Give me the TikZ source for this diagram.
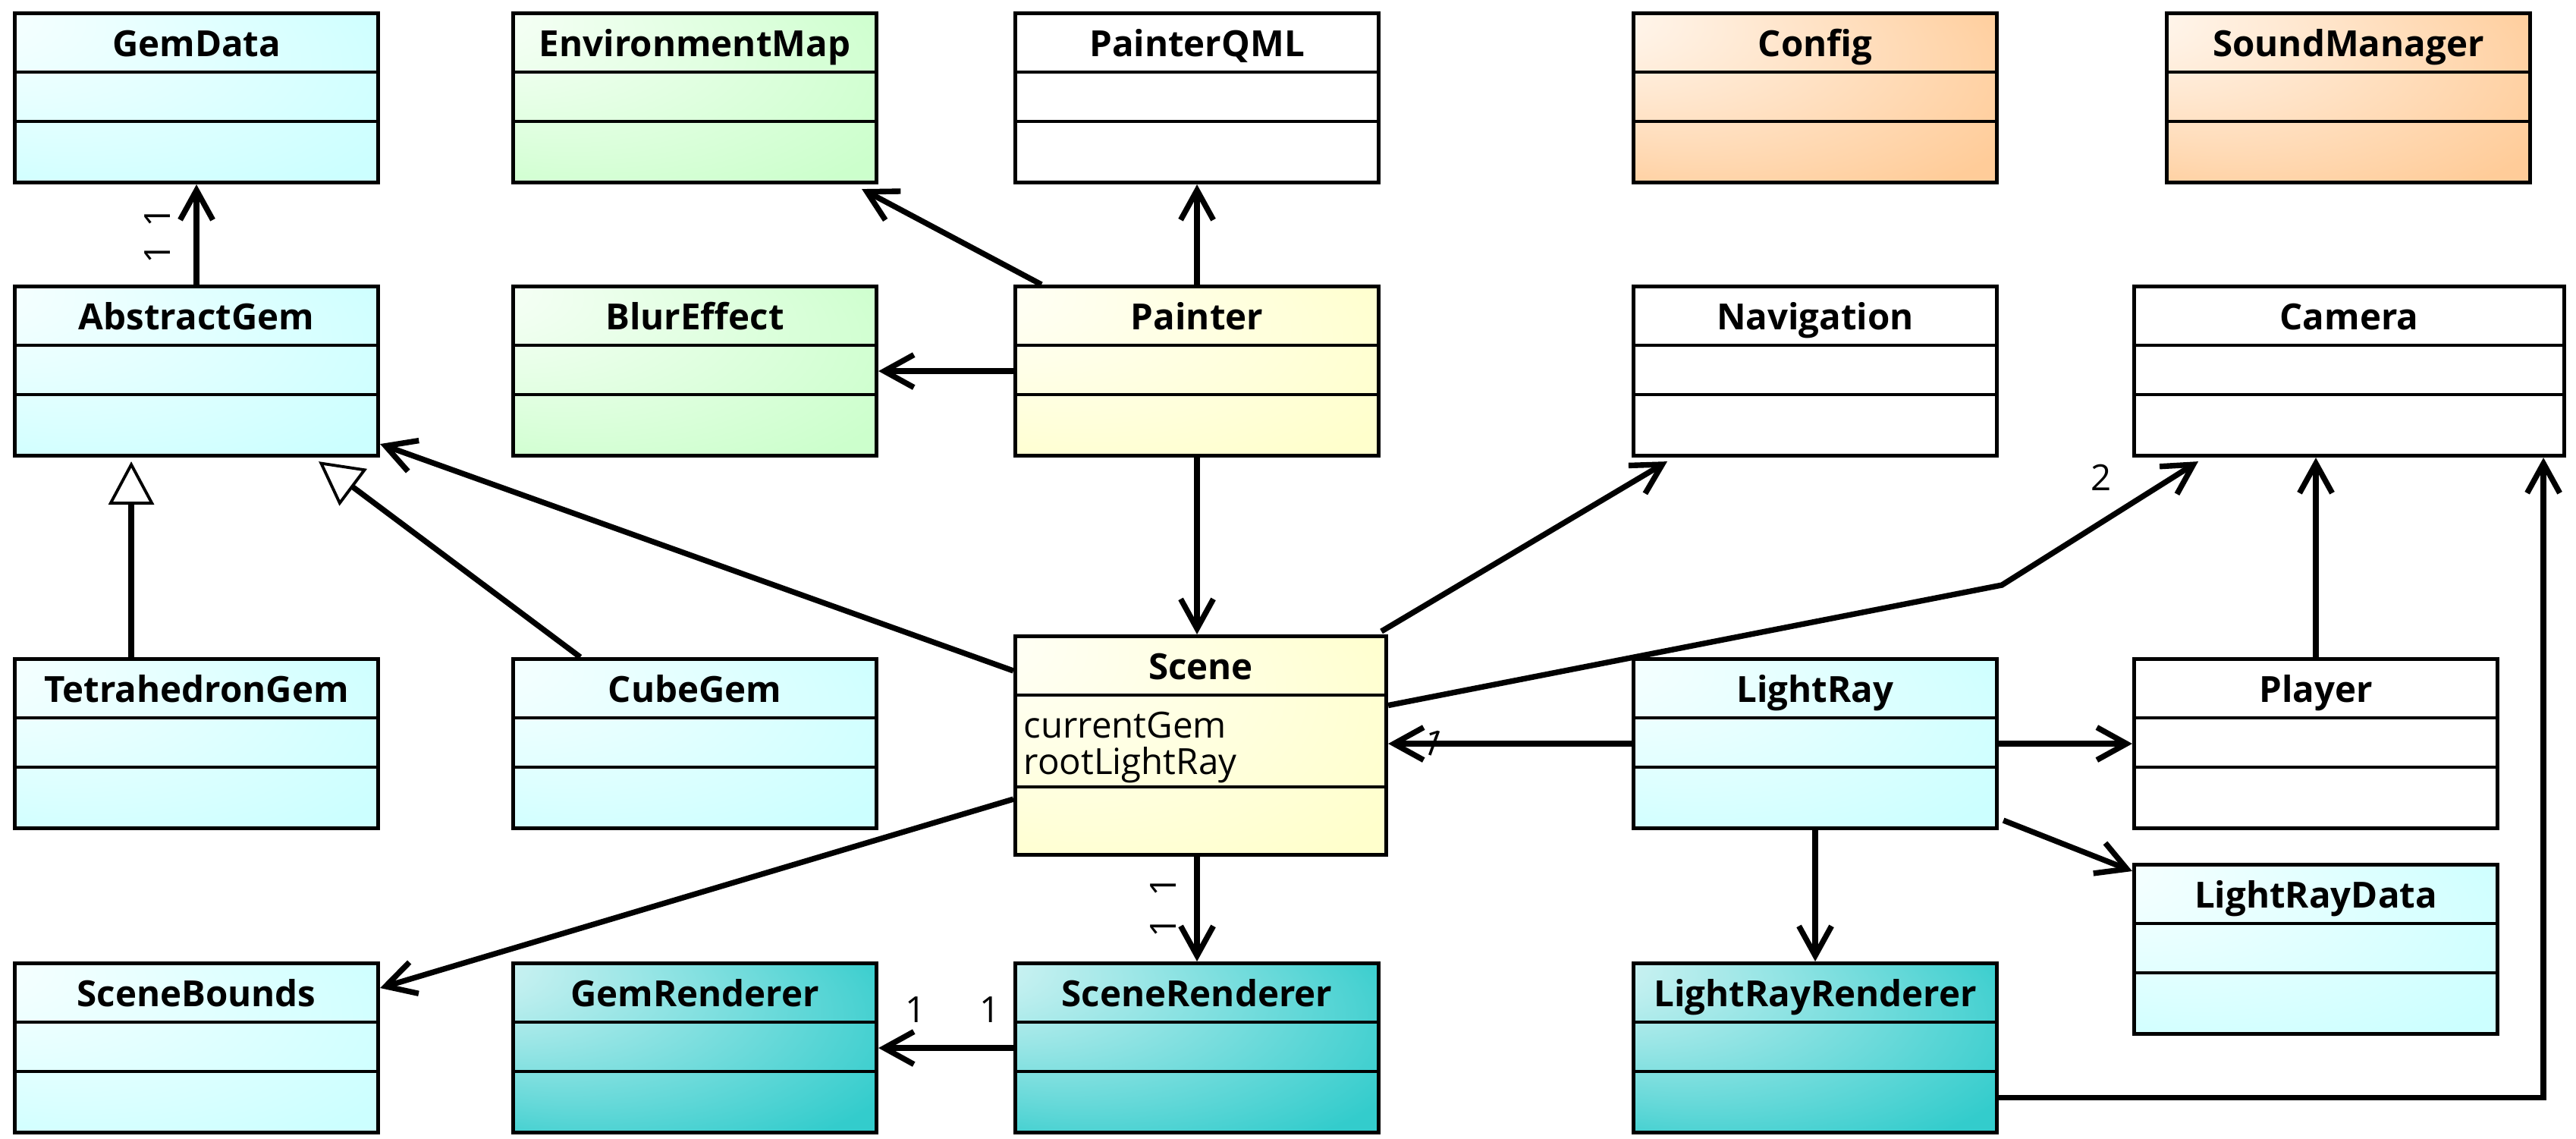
\documentclass[tikz,border=0pt]{standalone}
\usepackage{fontspec}
\setmainfont{Open Sans}
\usetikzlibrary{arrows.meta}

\definecolor{gemcyan}{HTML}{CCFFFF}
\definecolor{fxgreen}{HTML}{CCFFCC}
\definecolor{cfgorange}{HTML}{FFCC99}
\definecolor{coreyellow}{HTML}{FFFFCC}
\definecolor{rendteal}{HTML}{33CCCC}
\pgfdeclareradialshading{gemglow}{\pgfpoint{-40bp}{30bp}}{color(0bp)=(white); color(40bp)=(gemcyan); color(50bp)=(gemcyan)}
\pgfdeclareradialshading{fxglow}{\pgfpoint{-40bp}{30bp}}{color(0bp)=(white); color(40bp)=(fxgreen); color(50bp)=(fxgreen)}
\pgfdeclareradialshading{cfgglow}{\pgfpoint{-40bp}{30bp}}{color(0bp)=(white); color(40bp)=(cfgorange); color(50bp)=(cfgorange)}
\pgfdeclareradialshading{coreglow}{\pgfpoint{-40bp}{30bp}}{color(0bp)=(white); color(40bp)=(coreyellow); color(50bp)=(coreyellow)}
\pgfdeclareradialshading{rendglow}{\pgfpoint{-40bp}{30bp}}{color(0bp)=(white!92!rendteal); color(40bp)=(rendteal); color(50bp)=(rendteal)}

\tikzset{
  umlclass/.style={rectangle, draw, line width=1.45pt, anchor=north west, inner sep=0pt, minimum width=4.79cm, text height=0.57cm, text depth=1.66cm, font=\fontsize{13.5}{16}\selectfont\bfseries},
  gemclass/.style={umlclass, shade, shading=gemglow},
  fxclass/.style={umlclass, shade, shading=fxglow},
  cfgclass/.style={umlclass, shade, shading=cfgglow},
  coreclass/.style={umlclass, shade, shading=coreglow},
  plainclass/.style={umlclass, fill=white},
  rendclass/.style={umlclass, shade, shading=rendglow},
  compartment/.style={line width=1pt},
  assoc/.style={-{Straight Barb[length=3.9mm, width=4.3mm]}, line width=2.1pt},
  inherit/.style={-{Triangle[open, fill=white, length=5.7mm, width=6mm, line width=1.1pt]}, line width=2.1pt},
  mult/.style={inner sep=0pt, font=\fontsize{13.5}{16}\selectfont},
  attr/.style={inner sep=0pt, anchor=base west, font=\fontsize{13.5}{16}\selectfont}
}

\begin{document}
\begin{tikzpicture}
  \path[use as bounding box, fill=white] (0,0) rectangle (33.96,-15);

  % Classes
  \node[gemclass] (gemdata) at (0.17,-0.15) {GemData};
  \node[fxclass] (envmap) at (6.74,-0.15) {EnvironmentMap};
  \node[plainclass] (painterqml) at (13.36,-0.15) {PainterQML};
  \node[cfgclass] (config) at (21.51,-0.15) {Config};
  \node[cfgclass] (soundmanager) at (28.54,-0.15) {SoundManager};

  \node[gemclass] (abstractgem) at (0.17,-3.75) {AbstractGem};
  \node[fxclass] (blureffect) at (6.74,-3.75) {BlurEffect};
  \node[coreclass] (painter) at (13.36,-3.75) {Painter};
  \node[plainclass] (navigation) at (21.51,-3.75) {Navigation};
  \node[plainclass, minimum width=5.67cm] (camera) at (28.11,-3.75) {Camera};

  \node[gemclass] (tetrahedrongem) at (0.17,-8.66) {TetrahedronGem};
  \node[gemclass] (cubegem) at (6.74,-8.66) {CubeGem};
  \node[coreclass, minimum width=4.89cm, text depth=2.31cm] (scene) at (13.36,-8.36) {Scene};
  \node[gemclass] (lightray) at (21.51,-8.66) {LightRay};
  \node[plainclass] (player) at (28.11,-8.66) {Player};
  \node[gemclass] (lightraydata) at (28.11,-11.37) {LightRayData};

  \node[gemclass] (scenebounds) at (0.17,-12.67) {SceneBounds};
  \node[rendclass] (gemrenderer) at (6.74,-12.67) {GemRenderer};
  \node[rendclass] (scenerenderer) at (13.36,-12.67) {SceneRenderer};
  \node[rendclass] (lightrayrenderer) at (21.51,-12.67) {LightRayRenderer};

  % Compartments
  \foreach \c in {gemdata, envmap, painterqml, config, soundmanager, abstractgem, blureffect, painter, navigation, camera, tetrahedrongem, cubegem, lightray, player, lightraydata, scenebounds, gemrenderer, scenerenderer, lightrayrenderer} {
    \draw[compartment] ([yshift=-0.80cm]\c.north west) -- ([yshift=-0.80cm]\c.north east);
    \draw[compartment] ([yshift=-1.45cm]\c.north west) -- ([yshift=-1.45cm]\c.north east);
  }
  \draw[compartment] ([yshift=-0.80cm]scene.north west) -- ([yshift=-0.80cm]scene.north east);
  \draw[compartment] ([yshift=-2.01cm]scene.north west) -- ([yshift=-2.01cm]scene.north east);
  \node[attr] (currentgem) at ([xshift=0.13cm, yshift=-1.36cm]scene.north west) {currentGem};
  \node[attr] (rootlightray) at ([yshift=-0.48cm]currentgem.base west) {rootLightRay};

  % Connections
  \draw[assoc] (abstractgem.north) -- (gemdata.south);
  \draw[assoc] ([xshift=0.37cm]painter.north west) -- ([xshift=-0.22cm, yshift=-0.06cm]envmap.south east);
  \draw[assoc] (painter.north) -- (painterqml.south);
  \draw[assoc] (painter.west) -- (blureffect.east);
  \draw[assoc] (painter.south) -- (painter.south |- scene.north);
  \draw[assoc] ([yshift=-0.48cm]scene.north west) -- ([yshift=0.18cm]abstractgem.south east);
  \draw[inherit] ([xshift=0.91cm]cubegem.north west) -- ([xshift=-0.81cm, yshift=-0.05cm]abstractgem.south east);
  \draw[inherit] ([xshift=-0.86cm]tetrahedrongem.north) -- ([xshift=-0.86cm, yshift=-0.05cm]abstractgem.south);
  \draw[assoc] ([xshift=-0.09cm, yshift=0.04cm]scene.north east) -- ([xshift=0.47cm, yshift=-0.05cm]navigation.south west);
  \coordinate (cambend) at ([xshift=0.04cm, yshift=0.95cm]lightray.north east);
  \draw[assoc] ([yshift=0.53cm]scene.east) -- (cambend) -- ([xshift=0.87cm, yshift=-0.05cm]camera.south west);
  \draw[assoc] (lightray.west) -- (lightray.west -| scene.east);
  \draw[assoc] ([yshift=0.76cm]scene.south west) -- ([yshift=-0.35cm]scenebounds.north east);
  \draw[assoc] (scene.south -| scenerenderer.north) -- (scenerenderer.north);
  \draw[assoc] (scenerenderer.west) -- (gemrenderer.east);
  \draw[assoc] (lightray.east) -- (player.west);
  \draw[assoc] ([xshift=0.06cm, yshift=0.13cm]lightray.south east) -- ([yshift=-0.11cm]lightraydata.north west);
  \draw[assoc] (lightray.south) -- (lightrayrenderer.north);
  \draw[assoc] (player.north) -- (player.north |- camera.south);
  \draw[assoc] ([yshift=-0.655cm]lightrayrenderer.east) -| ([xshift=-0.30cm]camera.south east);

  % Multiplicities
  \node[mult, rotate=90] (gemmulta) at ([xshift=-0.51cm, yshift=-0.43cm]gemdata.south) {1};
  \node[mult, rotate=90] (gemmultb) at ([xshift=-0.51cm, yshift=-0.91cm]gemdata.south) {1};
  \node[mult, rotate=90] (rendmulta) at ([xshift=-0.49cm, yshift=-0.39cm]scene.south) {1};
  \node[mult, rotate=90] (rendmultb) at ([xshift=-0.49cm, yshift=-0.93cm]scene.south) {1};
  \node[mult] (gemrendmulta) at ([xshift=0.49cm, yshift=0.51cm]gemrenderer.east) {1};
  \node[mult] (gemrendmultb) at ([xshift=1.47cm, yshift=0.51cm]gemrenderer.east) {1};
  \node[mult, rotate=-20] (raymult) at ([xshift=0.60cm, yshift=0.03cm]scene.east) {1};
  \node[mult] (cammult) at ([xshift=-0.41cm, yshift=-0.26cm]camera.south west) {2};
\end{tikzpicture}
\end{document}
